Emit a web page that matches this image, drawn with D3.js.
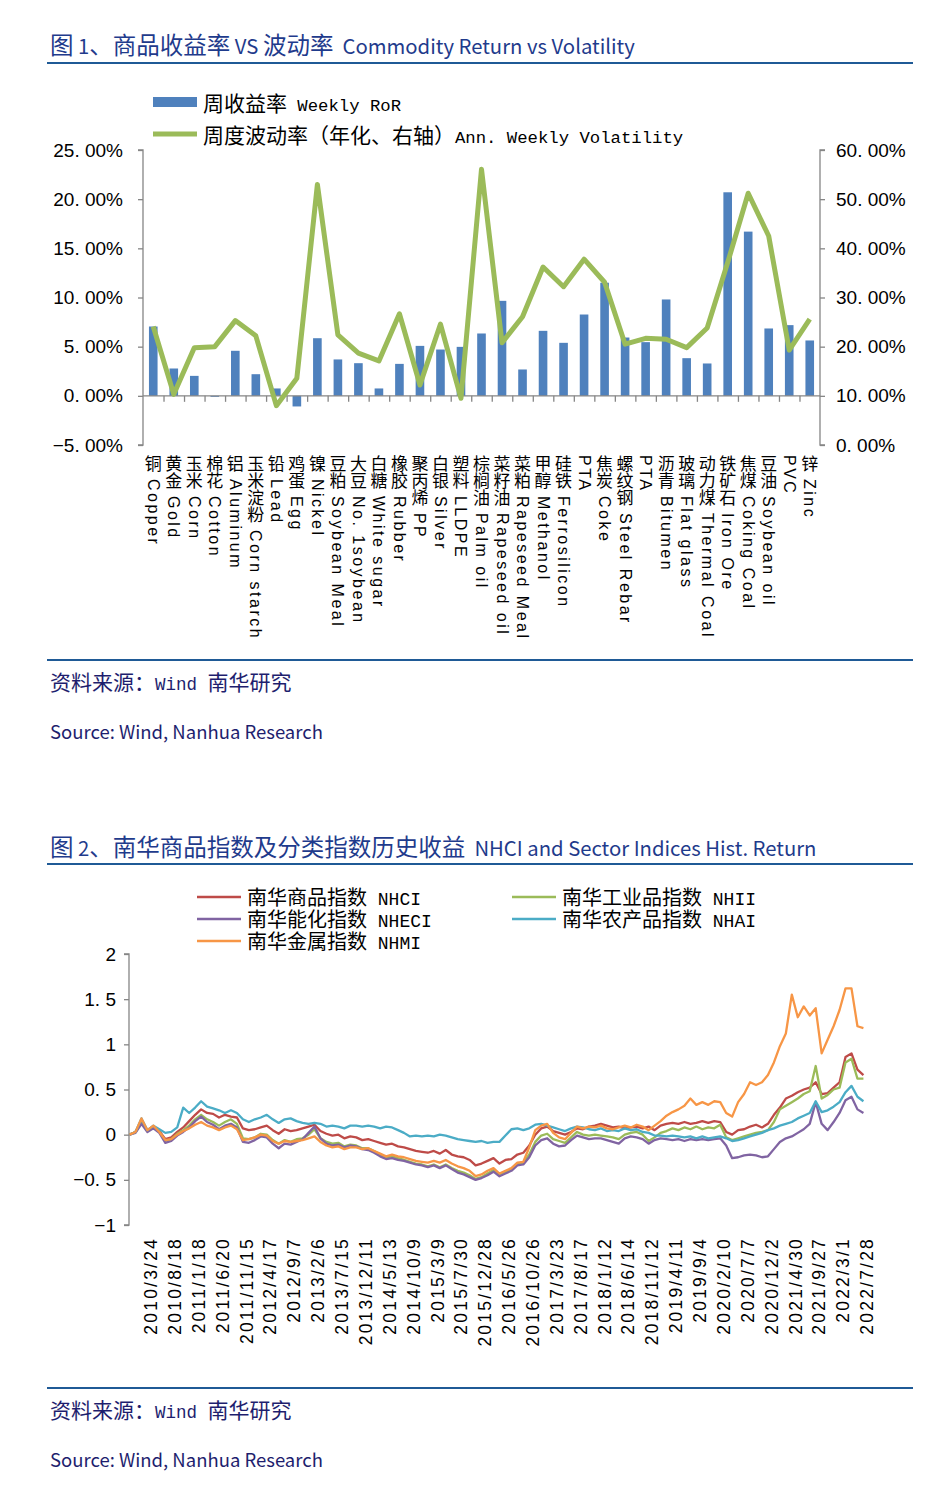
<!DOCTYPE html>
<html><head><meta charset="utf-8">
<script src="https://cdn.jsdelivr.net/npm/d3@7/dist/d3.min.js"></script>
<style>
body{margin:0;background:#fff;}
svg{display:block;}
</style></head><body>
<svg id="c" width="943" height="1497"></svg>
<script>
// ---------- Chart 1 data ----------
const commodityCN = ["铜","黄金","玉米","棉花","铝","玉米淀粉","铅","鸡蛋","镍","豆粕","大豆","白糖","橡胶","聚丙烯","白银","塑料","棕榈油","菜籽油","菜粕","甲醇","硅铁","","焦炭","螺纹钢","","沥青","玻璃","动力煤","铁矿石","焦煤","豆油","","锌"];
const commodityEN = ["Copper","Gold","Corn","Cotton","Aluminum","Corn starch","Lead","Egg","Nickel","Soybean Meal","No. 1soybean","White sugar","Rubber","PP","Silver","LLDPE","Palm oil","Rapeseed oil","Rapeseed Meal","Methanol","Ferrosilicon","PTA","Coke","Steel Rebar","PTA","Bitumen","Flat glass","Thermal Coal","Iron Ore","Coking Coal","Soybean oil","PVC","Zinc"];
const weeklyReturn = [7.05,2.78,2.03,-0.10,4.58,2.20,0.75,-1.08,5.86,3.70,3.32,0.75,3.25,5.08,4.71,4.98,6.34,9.66,2.68,6.61,5.39,8.27,11.50,5.93,5.46,9.80,3.83,3.29,20.70,16.70,6.85,7.19,5.63];
const annVolatility = [24.1,10.3,19.8,20.0,25.3,22.2,8.0,13.6,53.0,22.4,18.7,17.1,26.7,12.2,24.6,9.5,56.1,20.8,26.1,36.2,32.2,37.8,33.1,20.5,21.7,21.5,19.8,23.8,37.1,51.2,42.5,19.3,25.6];
const leftTicks = [-5,0,5,10,15,20,25];
const rightTicks = [0,10,20,30,40,50,60];
const legend1 = ["周收益率 Weekly RoR","周度波动率（年化、右轴）Ann. Weekly Volatility"];

// ---------- Chart 2 data ----------
const dateLabels = ["2010/3/24","2010/8/18","2011/1/18","2011/6/20","2011/11/15","2012/4/17","2012/9/7","2013/2/6","2013/7/15","2013/12/11","2014/5/13","2014/10/9","2015/3/9","2015/7/30","2015/12/28","2016/5/26","2016/10/26","2017/3/23","2017/8/17","2018/1/12","2018/6/14","2018/11/12","2019/4/11","2019/9/4","2020/2/10","2020/7/7","2020/12/2","2021/4/30","2021/9/27","2022/3/1","2022/7/28"];
// samples read every quarter of a date-label interval, first sample 0.9 interval before the first label
const sampleStart = -0.9, sampleStep = 0.25;
const nhci = [0.00,0.03,0.14,0.05,0.09,0.04,-0.05,-0.03,0.03,0.08,
0.15,0.22,0.28,0.24,0.23,0.19,0.22,0.20,0.19,0.07,
0.05,0.06,0.08,0.10,0.05,0.01,0.06,0.04,0.05,0.07,
0.09,0.11,0.04,0.01,-0.01,0.00,-0.04,-0.02,-0.03,-0.06,
-0.05,-0.07,-0.09,-0.11,-0.10,-0.13,-0.14,-0.16,-0.18,-0.19,
-0.20,-0.18,-0.21,-0.17,-0.22,-0.24,-0.25,-0.28,-0.34,-0.32,
-0.29,-0.26,-0.32,-0.28,-0.27,-0.22,-0.20,-0.12,0.00,0.07,
0.09,0.04,0.02,0.00,0.03,0.07,0.06,0.09,0.10,0.12,
0.10,0.08,0.09,0.07,0.08,0.09,0.07,0.09,0.05,0.10,
0.12,0.13,0.12,0.14,0.12,0.13,0.15,0.13,0.15,0.14,
0.03,0.00,0.05,0.06,0.09,0.11,0.08,0.12,0.22,0.30,
0.40,0.43,0.47,0.50,0.52,0.58,0.45,0.46,0.52,0.58,
0.86,0.90,0.72,0.66];
const nhii = [0.00,0.03,0.14,0.04,0.08,0.03,-0.07,-0.05,0.01,0.05,
0.10,0.17,0.22,0.17,0.14,0.10,0.14,0.17,0.12,-0.04,
-0.05,-0.03,0.01,0.00,-0.06,-0.10,-0.06,-0.08,-0.05,-0.04,
0.00,0.06,-0.04,-0.08,-0.10,-0.09,-0.13,-0.11,-0.12,-0.15,
-0.15,-0.18,-0.22,-0.25,-0.24,-0.26,-0.28,-0.30,-0.32,-0.33,
-0.35,-0.33,-0.36,-0.33,-0.37,-0.40,-0.42,-0.45,-0.49,-0.47,
-0.43,-0.39,-0.44,-0.41,-0.38,-0.32,-0.31,-0.22,-0.08,-0.01,
0.01,-0.05,-0.07,-0.09,-0.03,0.03,0.00,-0.01,0.00,-0.01,
-0.02,-0.03,-0.05,0.00,0.02,0.03,0.00,-0.07,-0.03,0.02,
0.04,0.07,0.05,0.08,0.06,0.09,0.06,0.08,0.07,0.11,
-0.03,-0.06,-0.04,-0.02,0.00,0.02,0.03,0.05,0.14,0.28,
0.32,0.36,0.40,0.45,0.48,0.76,0.40,0.44,0.50,0.52,
0.80,0.84,0.62,0.62];
const nheci = [0.00,0.02,0.12,0.03,0.07,0.02,-0.09,-0.07,-0.01,0.03,
0.08,0.15,0.20,0.14,0.11,0.06,0.10,0.12,0.08,-0.08,
-0.09,-0.06,-0.02,-0.03,-0.10,-0.15,-0.10,-0.11,-0.08,-0.05,
0.02,0.09,-0.04,-0.10,-0.12,-0.11,-0.14,-0.12,-0.13,-0.16,
-0.17,-0.20,-0.24,-0.27,-0.26,-0.28,-0.29,-0.31,-0.33,-0.34,
-0.36,-0.34,-0.37,-0.34,-0.38,-0.42,-0.44,-0.47,-0.50,-0.48,
-0.45,-0.41,-0.46,-0.43,-0.40,-0.34,-0.33,-0.25,-0.12,-0.06,
-0.04,-0.10,-0.13,-0.12,-0.06,-0.01,-0.03,-0.05,-0.04,-0.04,
-0.06,-0.08,-0.10,-0.04,-0.02,-0.03,-0.05,-0.10,-0.06,-0.04,
-0.05,-0.06,-0.05,-0.07,-0.05,-0.06,-0.05,-0.06,-0.05,-0.04,
-0.12,-0.26,-0.25,-0.23,-0.22,-0.23,-0.25,-0.24,-0.16,-0.08,
-0.04,-0.02,0.02,0.06,0.12,0.36,0.12,0.05,0.14,0.24,
0.38,0.42,0.28,0.24];
const nhai = [0.00,0.03,0.18,0.05,0.10,0.06,0.02,0.03,0.08,0.30,
0.24,0.30,0.37,0.31,0.29,0.27,0.24,0.27,0.24,0.17,
0.14,0.17,0.19,0.22,0.17,0.13,0.17,0.18,0.15,0.13,
0.12,0.13,0.12,0.09,0.10,0.09,0.07,0.10,0.10,0.09,
0.10,0.09,0.07,0.09,0.08,0.05,0.02,-0.02,-0.01,-0.02,
-0.01,-0.02,0.00,-0.01,-0.03,-0.05,-0.06,-0.07,-0.08,-0.07,
-0.09,-0.08,-0.08,-0.01,0.06,0.07,0.05,0.07,0.11,0.12,
0.10,0.08,0.06,0.04,0.07,0.09,0.08,0.06,0.05,0.07,
0.04,0.05,0.04,0.07,0.05,0.06,0.03,0.02,-0.01,-0.01,
-0.02,-0.01,-0.02,-0.03,-0.02,-0.04,-0.02,-0.04,-0.03,-0.02,
-0.04,-0.07,-0.06,-0.04,-0.02,0.00,0.02,0.05,0.07,0.10,
0.12,0.14,0.18,0.21,0.24,0.37,0.25,0.27,0.31,0.36,
0.47,0.54,0.42,0.37];
const nhmi = [0.00,0.03,0.18,0.05,0.10,0.03,-0.06,-0.05,0.00,0.04,
0.07,0.11,0.14,0.10,0.08,0.05,0.08,0.10,0.06,-0.06,
-0.05,-0.03,0.00,-0.01,-0.07,-0.10,-0.07,-0.08,-0.07,-0.06,
-0.04,-0.02,-0.08,-0.12,-0.14,-0.13,-0.16,-0.14,-0.14,-0.16,
-0.15,-0.18,-0.21,-0.24,-0.22,-0.24,-0.25,-0.27,-0.29,-0.30,
-0.31,-0.29,-0.31,-0.28,-0.32,-0.35,-0.37,-0.40,-0.46,-0.44,
-0.40,-0.37,-0.43,-0.40,-0.37,-0.31,-0.30,-0.14,0.05,0.10,
0.12,0.02,-0.03,-0.05,0.02,0.09,0.07,0.09,0.08,0.10,
0.07,0.06,0.08,0.10,0.08,0.11,0.09,0.05,0.10,0.15,
0.21,0.25,0.28,0.32,0.40,0.33,0.36,0.33,0.37,0.36,
0.24,0.20,0.36,0.45,0.58,0.55,0.58,0.66,0.80,0.98,
1.12,1.55,1.30,1.42,1.32,1.40,0.90,1.05,1.20,1.38,
1.62,1.62,1.20,1.18];
const seriesNames = ["南华商品指数 NHCI","南华工业品指数 NHII","南华能化指数 NHECI","南华农产品指数 NHAI","南华金属指数 NHMI"];
const seriesColors = ["#BE4B48","#9BBB59","#8064A2","#4BACC6","#F79646"];
const yTicks2 = [-1,-0.5,0,0.5,1,1.5,2];

const titles = ["图 1、商品收益率 VS 波动率  Commodity Return vs Volatility","图 2、南华商品指数及分类指数历史收益  NHCI and Sector Indices Hist. Return"];
const sourceCN = "资料来源：Wind 南华研究";
const sourceEN = "Source: Wind, Nanhua Research";

// ---------- drawing ----------
const svg = d3.select("#c");
const TITLE_C = "#1F3B8C", RULE_C = "#1F5A96", SRC_C = "#1E1E6E", AXIS_C = "#868686";
const CJK = "'Noto Sans CJK SC', sans-serif";
const MONO = "'Liberation Mono', monospace";
const MONO_CJK = "'Liberation Mono', 'Noto Sans CJK SC', monospace";
const ARIAL = "'Liberation Sans', Arial, sans-serif";
const fmtNum = s => s.replace(".", ". ");
const isCJK = ch => /[\u2E80-\u9FFF\u3000-\u303F\uFF00-\uFFEF]/.test(ch);

// split a string into CJK / Latin runs
function runs(str) {
  const out = [];
  for (const ch of str) {
    const c = isCJK(ch);
    if (out.length && out[out.length - 1].cjk === c) out[out.length - 1].t += ch;
    else out.push({ t: ch, cjk: c });
  }
  return out;
}
// append mixed-script tspans to a text selection
function mixed(sel, str, cjkStyle, latStyle) {
  runs(str).forEach(r => {
    const st = r.cjk ? cjkStyle : latStyle;
    const ts = sel.append("tspan").attr("font-family", st.family).attr("font-size", st.size).text(r.t);
    if (st.ls != null) ts.attr("letter-spacing", st.ls);
  });
}

// baseline from visual centre of CJK glyphs
const base = (cy, size) => cy + 0.38 * size;

function header(y, text) {
  const t = svg.append("text").attr("x", 50).attr("y", base(y, 23.5)).attr("fill", TITLE_C)
    .style("white-space", "pre");
  mixed(t, text, { family: CJK, size: 23.5 }, { family: CJK, size: 20.3 });
}
function rule(y) {
  svg.append("line").attr("x1", 47).attr("x2", 913).attr("y1", y).attr("y2", y)
    .attr("stroke", RULE_C).attr("stroke-width", 2);
}
function sources(y0) {
  rule(y0);
  const t = svg.append("text").attr("x", 50).attr("y", base(y0 + 22, 21)).attr("fill", SRC_C)
    .style("white-space", "pre");
  mixed(t, sourceCN, { family: CJK, size: 21 }, { family: MONO, size: 17.5 });
  svg.append("text").attr("x", 50).attr("y", y0 + 71).attr("font-family", CJK).attr("font-size", 18.5)
    .attr("fill", SRC_C).attr("dominant-baseline", "central").text(sourceEN);
}

// ===== Chart 1 =====
header(45, titles[0]);
rule(63);

const x1 = d3.scaleBand().domain(d3.range(commodityEN.length)).range([143, 820]).paddingInner(0.58).paddingOuter(0.29);
const yL = d3.scaleLinear().domain([-5, 25]).range([445, 150]);
const yR = d3.scaleLinear().domain([0, 60]).range([445, 150]);

// bars
svg.append("g").selectAll("rect").data(weeklyReturn).join("rect")
  .attr("x", (d, i) => x1(i)).attr("width", x1.bandwidth())
  .attr("y", d => yL(Math.max(0, d))).attr("height", d => Math.abs(yL(d) - yL(0)))
  .attr("fill", "#4F81BD");

// left axis
const axL = svg.append("g").attr("transform", "translate(143,0)")
  .call(d3.axisLeft(yL).tickValues(leftTicks).tickSize(5).tickPadding(15)
    .tickFormat(d => fmtNum(d3.format(".2f")(d)) + "%"));
// right axis
const axR = svg.append("g").attr("transform", "translate(820,0)")
  .call(d3.axisRight(yR).tickValues(rightTicks).tickSize(5).tickPadding(11)
    .tickFormat(d => fmtNum(d3.format(".2f")(d)) + "%"));
[axL, axR].forEach(a => {
  a.selectAll("path,line").attr("stroke", AXIS_C).attr("stroke-width", 1.3);
  a.select(".domain").attr("d", a === axL ? "M-5,150H0V445H-5" : "M5,150H0V445H5");
  a.selectAll("text").attr("font-family", ARIAL).attr("font-size", 19).attr("fill", "#000");
});

// category (zero) axis
const x1ax = d3.scaleLinear().domain([0, commodityEN.length]).range([143, 820]);
const axX = svg.append("g").attr("transform", `translate(0,${yL(0)})`)
  .call(d3.axisBottom(x1ax).tickValues(d3.range(1, commodityEN.length)).tickSize(6).tickFormat(""));
axX.select(".domain").attr("d", "M143,0H820");
axX.selectAll("path,line").attr("stroke", AXIS_C).attr("stroke-width", 1.3);

// volatility line
svg.append("path").datum(annVolatility)
  .attr("d", d3.line().x((d, i) => x1(i) + x1.bandwidth() / 2).y(d => yR(d)))
  .attr("fill", "none").attr("stroke", "#9BBB59").attr("stroke-width", 5).attr("stroke-linejoin", "round");

// category labels (vertical writing)
svg.append("g").selectAll("text").data(commodityEN).join("text")
  .attr("x", (d, i) => x1(i) + x1.bandwidth() / 2).attr("y", 455)
  .style("writing-mode", "vertical-rl").style("white-space", "pre")
  .attr("fill", "#000")
  .each(function (d, i) {
    const str = commodityCN[i] ? commodityCN[i] + " " + d : d;
    mixed(d3.select(this), str, { family: CJK, size: 17, ls: 0 }, { family: ARIAL, size: 16, ls: 2.5 });
  });

// legend 1
svg.append("rect").attr("x", 153).attr("y", 97).attr("width", 44).attr("height", 10).attr("fill", "#4F81BD");
svg.append("line").attr("x1", 153).attr("x2", 197).attr("y1", 134).attr("y2", 134).attr("stroke", "#9BBB59").attr("stroke-width", 5);
svg.selectAll(".lg1").data(legend1).join("text").attr("class", "lg1")
  .attr("x", 203).attr("y", (d, i) => base(103 + i * 32, 21))
  .style("white-space", "pre").attr("fill", "#000")
  .each(function (d) { mixed(d3.select(this), d, { family: CJK, size: 21 }, { family: MONO, size: 17.3 }); });

sources(660);

// ===== Chart 2 =====
header(847, titles[1]);
rule(864);

const x2 = d3.scaleLinear().domain([0, dateLabels.length - 1]).range([151, 867]);
const y2 = d3.scaleLinear().domain([-1, 2]).range([1225, 954]);

const ax2 = svg.append("g").attr("transform", "translate(129,0)")
  .call(d3.axisLeft(y2).tickValues(yTicks2).tickSize(5).tickPadding(8)
    .tickFormat(d => fmtNum(d3.format("")(d))));
ax2.selectAll("path,line").attr("stroke", AXIS_C).attr("stroke-width", 1.3);
ax2.select(".domain").attr("d", "M-5,954H0V1225H-5");
ax2.selectAll("text").attr("font-family", ARIAL).attr("font-size", 19).attr("fill", "#000");

// date labels
svg.append("g").selectAll("text").data(dateLabels).join("text")
  .attr("transform", (d, i) => `translate(${x2(i)},1237) rotate(-90)`)
  .attr("text-anchor", "end").attr("dy", "0.35em")
  .attr("font-family", ARIAL).attr("font-size", 17.5).attr("letter-spacing", 2.2)
  .attr("fill", "#000").text(d => d);

const allSeries = [nhci, nhii, nheci, nhai, nhmi];
const line2 = d3.line().x((d, i) => x2(sampleStart + i * sampleStep)).y(d => y2(d));
svg.append("g").selectAll("path").data(allSeries).join("path")
  .attr("d", line2).attr("fill", "none")
  .attr("stroke", (d, i) => seriesColors[i]).attr("stroke-width", 2.3).attr("stroke-linejoin", "round");

// legend 2
const lgPos = [[197, 897], [512, 897], [197, 919], [512, 919], [197, 941]];
const lg2 = svg.append("g").selectAll("g").data(seriesNames).join("g")
  .attr("transform", (d, i) => `translate(${lgPos[i][0]},${lgPos[i][1]})`);
lg2.append("line").attr("x1", 0).attr("x2", 44).attr("stroke", (d, i) => seriesColors[i]).attr("stroke-width", 2.3);
lg2.append("text").attr("x", 50).attr("y", base(0, 20)).style("white-space", "pre")
  .attr("fill", "#000").attr("font-family", MONO_CJK)
  .each(function (d) { mixed(d3.select(this), d, { family: MONO_CJK, size: 20 }, { family: MONO_CJK, size: 18 }); });

sources(1388);
</script>
</body></html>
